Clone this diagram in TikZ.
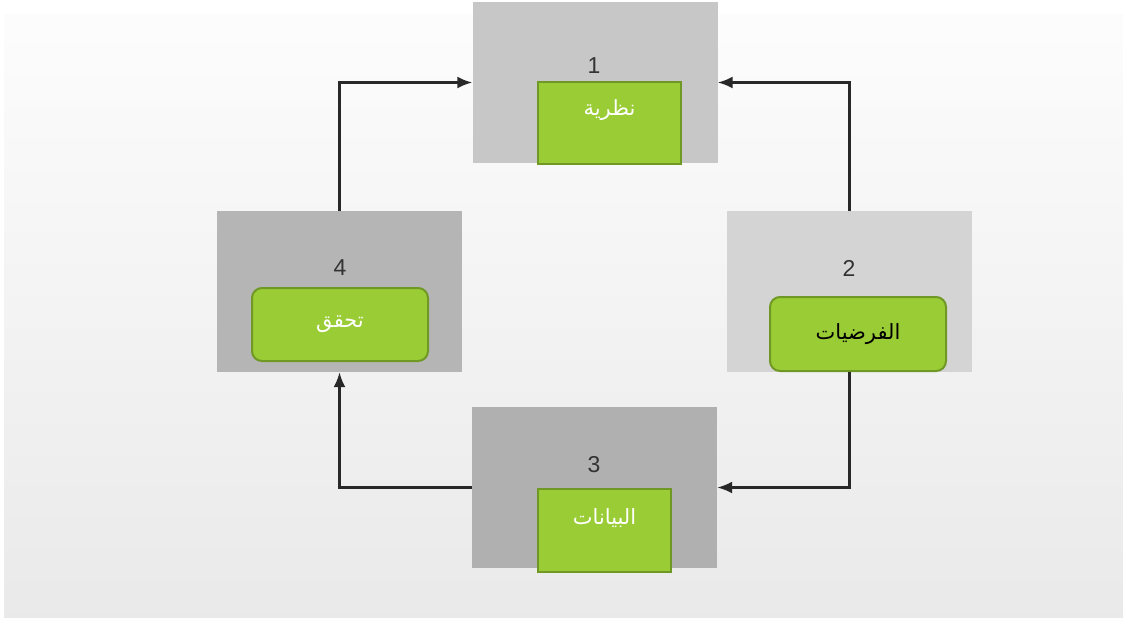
\documentclass[tikz,border=0pt]{standalone}
\usepackage{fontspec}
\setmainfont{Liberation Sans}
\newfontfamily\arabicfont[Script=Arabic]{DejaVu Sans}
\TeXXeTstate=1
\usepackage{tikz}
\usetikzlibrary{arrows.meta,positioning}

\definecolor{stepgreen}{RGB}{154,204,54}
\definecolor{stepedge}{RGB}{112,152,36}
\definecolor{linkgray}{RGB}{40,40,40}

\tikzset{
  panel/.style={minimum width=245pt,minimum height=161pt,inner sep=0pt},
  tag/.style={draw=stepedge,line width=2pt,fill=stepgreen,inner sep=0pt},
  roundtag/.style={tag,rounded corners=10pt},
  num/.style={text=black!80,font=\fontsize{23}{26}\selectfont},
  word/.style={font=\arabicfont\fontsize{21}{24}\selectfont},
  link/.style={draw=linkgray,line width=2.4pt,-{Latex[length=15pt,width=12pt]}}
}

\begin{document}
\begin{tikzpicture}[x=1pt,y=-1pt]
  \useasboundingbox (0,0) rectangle (1126,622);
  \fill[white] (0,0) rectangle (1126,622);
  % soft backdrop
  \shade[top color=black!1,bottom color=black!8.5,draw=white] (3,13) rectangle (1123,618);

  % the four stages
  \node[panel,fill=black!22] (b1) at (595,82.5) {};
  \node[panel,fill=black!17] (b2) at (849.5,291.5) {};
  \node[panel,fill=black!31] (b3) at (594.5,487.5) {};
  \node[panel,fill=black!29] (b4) at (339.5,291.5) {};

  \node[num] (n1) at (594,66) {1};
  \node[num] (n2) at (849,268) {2};
  \node[num] (n3) at (594,465) {3};
  \node[num] (n4) at (340,268) {4};

  \node[tag,minimum width=143pt,minimum height=82pt,
        label={[word,text=white,yshift=13pt]center:\beginR نظرية\endR}] (t1) at (609.5,123) {};
  \node[roundtag,minimum width=176pt,minimum height=74pt,word] (t2) at (858,334)
        {\raisebox{4pt}{\beginR الفرضيات\endR}};
  \node[tag,minimum width=133pt,minimum height=83pt,
        label={[word,text=white,yshift=12pt]center:\beginR البيانات\endR}] (t3) at (604.5,530.5) {};
  \node[roundtag,minimum width=176pt,minimum height=73pt,word,text=white] (t4) at (340,324.5)
        {\raisebox{3pt}{\beginR تحقق\endR}};

  % cycle
  \draw[link] (b4.north) |- (b1.west);
  \draw[link] (b2.north) |- (b1.east);
  \draw[link] (b2.south) |- (b3.east);
  \draw[link] (b3.west) -| (b4.south);
\end{tikzpicture}
\end{document}
